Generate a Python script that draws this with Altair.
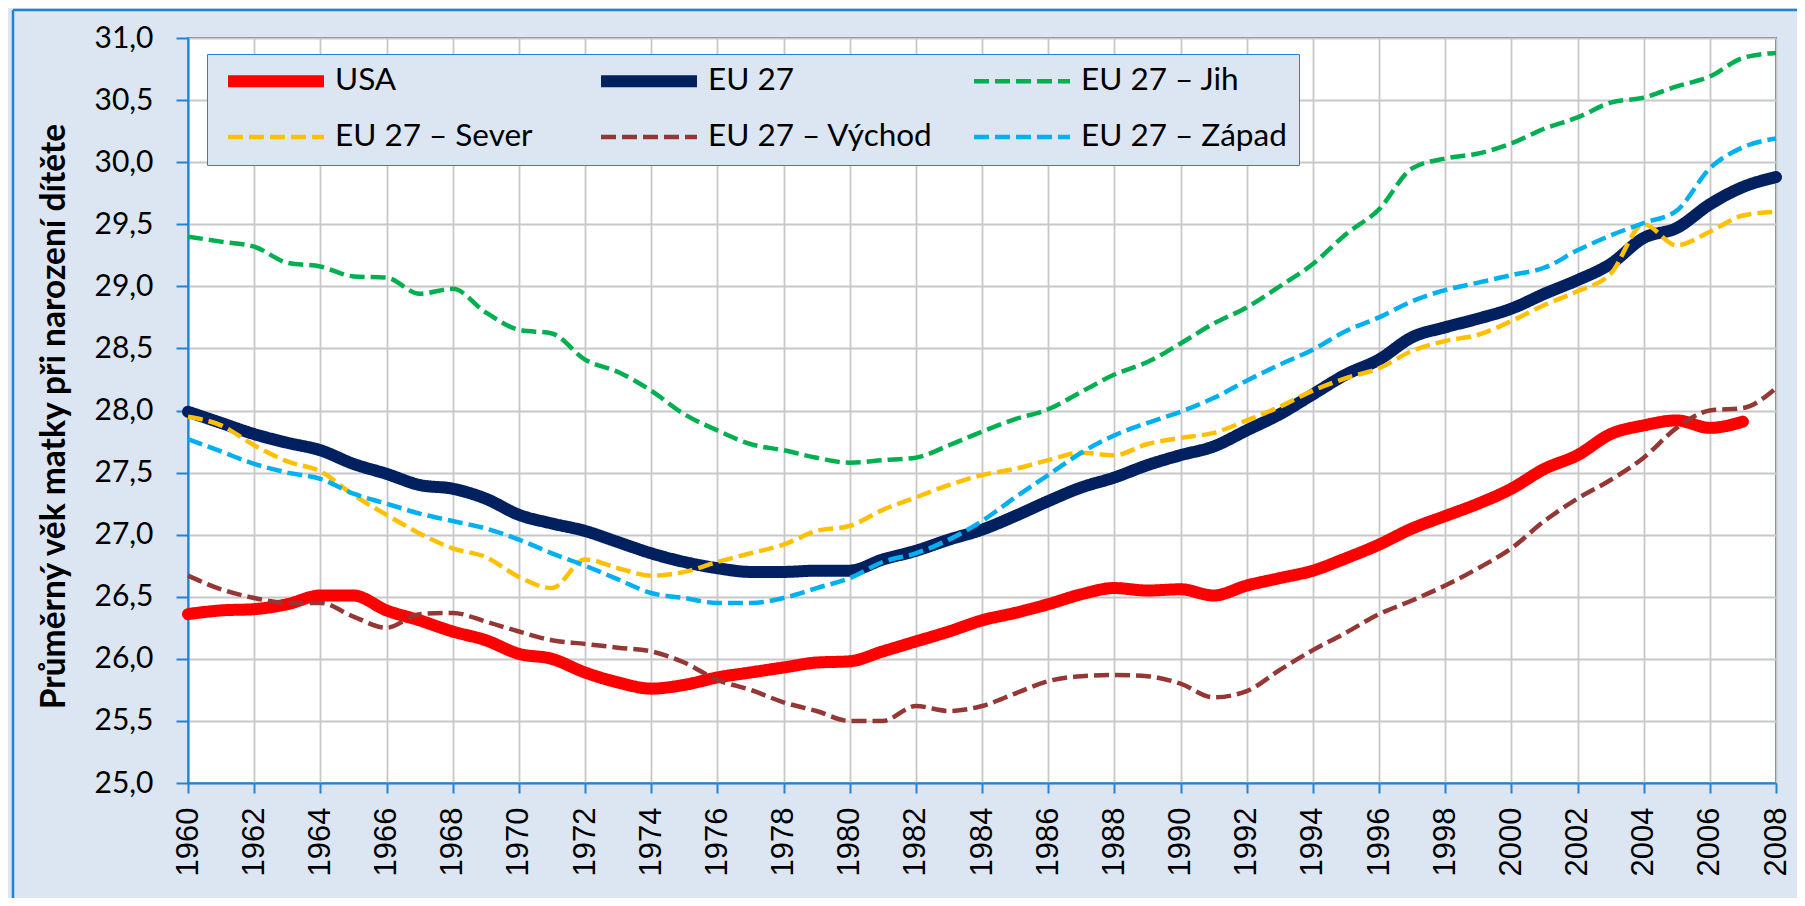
import altair as alt
import pandas as pd

years = list(range(1960, 2009))
usa_years = list(range(1960, 2008))

usa = [26.36, 26.39, 26.40, 26.44, 26.51, 26.51, 26.39, 26.31, 26.22, 26.15,
       26.04, 26.00, 25.89, 25.81, 25.76, 25.79, 25.85, 25.89, 25.93, 25.97,
       25.98, 26.06, 26.14, 26.22, 26.31, 26.37, 26.44, 26.52, 26.57, 26.55,
       26.56, 26.51, 26.59, 26.65, 26.71, 26.81, 26.92, 27.05, 27.15, 27.25,
       27.37, 27.53, 27.64, 27.81, 27.88, 27.92, 27.86, 27.91]
eu27 = [27.99, 27.90, 27.81, 27.74, 27.68, 27.57, 27.49, 27.40, 27.37, 27.29,
        27.16, 27.09, 27.03, 26.94, 26.85, 26.78, 26.73, 26.70, 26.70, 26.71,
        26.71, 26.80, 26.87, 26.96, 27.04, 27.15, 27.27, 27.38, 27.46, 27.56,
        27.64, 27.71, 27.84, 27.97, 28.13, 28.29, 28.41, 28.59, 28.67, 28.74,
        28.82, 28.94, 29.05, 29.18, 29.39, 29.47, 29.66, 29.80, 29.88]
jih = [29.40, 29.36, 29.32, 29.19, 29.16, 29.08, 29.07, 28.94, 28.98, 28.79,
       28.65, 28.62, 28.41, 28.31, 28.16, 27.97, 27.84, 27.73, 27.68, 27.62,
       27.58, 27.60, 27.62, 27.72, 27.83, 27.93, 28.01, 28.15, 28.29, 28.39,
       28.54, 28.70, 28.83, 29.00, 29.18, 29.42, 29.62, 29.95, 30.03, 30.07,
       30.15, 30.27, 30.36, 30.48, 30.52, 30.61, 30.69, 30.84, 30.88]
sever = [27.95, 27.88, 27.72, 27.59, 27.51, 27.32, 27.16, 27.01, 26.89, 26.82,
         26.66, 26.57, 26.80, 26.73, 26.67, 26.70, 26.78, 26.85, 26.92, 27.03,
         27.07, 27.20, 27.30, 27.40, 27.48, 27.53, 27.60, 27.66, 27.64, 27.73,
         27.78, 27.82, 27.92, 28.03, 28.16, 28.26, 28.34, 28.48, 28.56, 28.61,
         28.72, 28.85, 28.96, 29.10, 29.50, 29.33, 29.44, 29.57, 29.60]
vychod = [26.67, 26.56, 26.49, 26.45, 26.45, 26.34, 26.25, 26.36, 26.37, 26.30,
          26.22, 26.15, 26.12, 26.09, 26.06, 25.97, 25.83, 25.75, 25.65, 25.58,
          25.50, 25.50, 25.62, 25.58, 25.62, 25.72, 25.82, 25.86, 25.87, 25.86,
          25.80, 25.69, 25.74, 25.91, 26.07, 26.21, 26.36, 26.47, 26.59, 26.73,
          26.89, 27.11, 27.29, 27.44, 27.62, 27.86, 28.00, 28.02, 28.18]
zapad = [27.77, 27.67, 27.57, 27.50, 27.45, 27.33, 27.25, 27.17, 27.11, 27.05,
         26.96, 26.85, 26.75, 26.64, 26.53, 26.49, 26.45, 26.45, 26.49, 26.57,
         26.65, 26.78, 26.85, 26.96, 27.11, 27.30, 27.48, 27.66, 27.80, 27.90,
         27.99, 28.10, 28.24, 28.37, 28.49, 28.64, 28.75, 28.88, 28.97, 29.03,
         29.09, 29.15, 29.29, 29.41, 29.51, 29.61, 29.95, 30.12, 30.19]

series_names = ["USA", "EU 27", "EU 27 – Jih", "EU 27 – Sever",
                "EU 27 – Východ", "EU 27 – Západ"]
thick_names = ["USA", "EU 27"]
series_colors = ["#FF0000", "#002060", "#00B050", "#FFC000", "#953735", "#00B0F0"]
series_dashes = [[1, 0], [1, 0], [15, 6], [15, 6], [15, 6], [15, 6]]
THICK_W, THIN_W = 12, 4.5
y_ticks = [25.0, 25.5, 26.0, 26.5, 27.0, 27.5, 28.0, 28.5, 29.0, 29.5, 30.0, 30.5, 31.0]
x_ticks = list(range(1960, 2009, 2))

rows = []
for name, yrs, vals in [("USA", usa_years, usa), ("EU 27", years, eu27),
                        ("EU 27 – Jih", years, jih), ("EU 27 – Sever", years, sever),
                        ("EU 27 – Východ", years, vychod), ("EU 27 – Západ", years, zapad)]:
    for y, v in zip(yrs, vals):
        rows.append({"year": y, "value": v, "series": name})
df = pd.DataFrame(rows)

BLUE = "#2283D6"
W, H = 1588, 745

sw_expr = ("((datum.label || datum) === 'USA' || (datum.label || datum) === 'EU 27'"
           " ? %s : %s)" % (THICK_W, THIN_W))

legend = alt.Legend(
    title=None, orient="none", legendX=19, legendY=16, columns=3,
    direction="horizontal", gridAlign="all", symbolType="stroke",
    symbolSize=9216, clipHeight=30,
    symbolStrokeWidth={"expr": sw_expr},
    symbolOffset=3, labelOffset=5, labelFont="Lato", labelFontSize=31.5,
    labelColor="#000000", labelLimit=500, fillColor="#DCE6F2",
    strokeColor=BLUE, padding=12, columnPadding=32, rowPadding=24,
)

enc = dict(
    x=alt.X("year:Q", scale=alt.Scale(domain=[1960, 2008], nice=False, zero=False),
            axis=alt.Axis(values=x_ticks, format="d", labelAngle=270,
                          labelFont="Liberation Sans", labelFontSize=31,
                          labelColor="#000000", tickSize=10, tickColor=BLUE,
                          tickWidth=2, domainColor=BLUE, domainWidth=2,
                          labelPadding=14, gridColor="#C8C8C8", gridWidth=1.8,
                          title=None, labelOverlap=False, labelFlush=False,
                          labelBound=False)),
    y=alt.Y("value:Q", scale=alt.Scale(domain=[25, 31], nice=False, zero=False),
            axis=alt.Axis(values=y_ticks,
                          labelExpr="replace(format(datum.value, '.1f'), '.', ',')",
                          labelFont="Lato", labelFontSize=30, labelColor="#000000",
                          tickSize=12, tickColor=BLUE, tickWidth=2,
                          domainColor=BLUE, domainWidth=2, labelPadding=23,
                          gridColor="#C8C8C8", gridWidth=1.8, labelFlush=False,
                          labelOverlap=False,
                          title="Průměrný věk matky při narození dítěte",
                          titleFont="Lato", titleFontSize=33.5, titleFontWeight="bold",
                          titleColor="#000000", titleX=-134, titleY=378,
                          titleAngle=270, titleAlign="center",
                          titleBaseline="middle")),
    color=alt.Color("series:N", scale=alt.Scale(domain=series_names, range=series_colors),
                    legend=legend),
    strokeDash=alt.StrokeDash("series:N", scale=alt.Scale(domain=series_names,
                                                          range=series_dashes),
                              legend=legend),
    detail="series:N",
)

base = alt.Chart(df)
thick = base.transform_filter(
    alt.FieldOneOfPredicate(field="series", oneOf=thick_names)
).mark_line(interpolate="monotone", strokeWidth=THICK_W, strokeCap="round",
            strokeJoin="round").encode(**enc)
dashed = base.transform_filter(
    alt.FieldOneOfPredicate(field="series", oneOf=series_names[2:])
).mark_line(interpolate="monotone", strokeWidth=THIN_W,
            strokeJoin="round").encode(**enc)

frame_df = pd.DataFrame({"k": [0]})
frame_top = alt.Chart(frame_df).mark_rule(color=BLUE, strokeWidth=2.5).encode(
    x=alt.value(-175), x2=alt.value(W + 30), y=alt.value(-28))
frame_left = alt.Chart(frame_df).mark_rule(color=BLUE, strokeWidth=2.5).encode(
    x=alt.value(-175), y=alt.value(-28), y2=alt.value(H + 130))

chart = alt.layer(frame_top, frame_left, thick, dashed).properties(
    width=W, height=H,
    padding={"left": 180, "top": 30, "right": 21, "bottom": 115},
    autosize=alt.AutoSizeParams(type="none"),
    background="#DCE6F2",
).configure_view(stroke=BLUE, strokeWidth=2, fill="#FFFFFF")

chart.save("out.html", embed_options={"renderer": "svg", "actions": False})
